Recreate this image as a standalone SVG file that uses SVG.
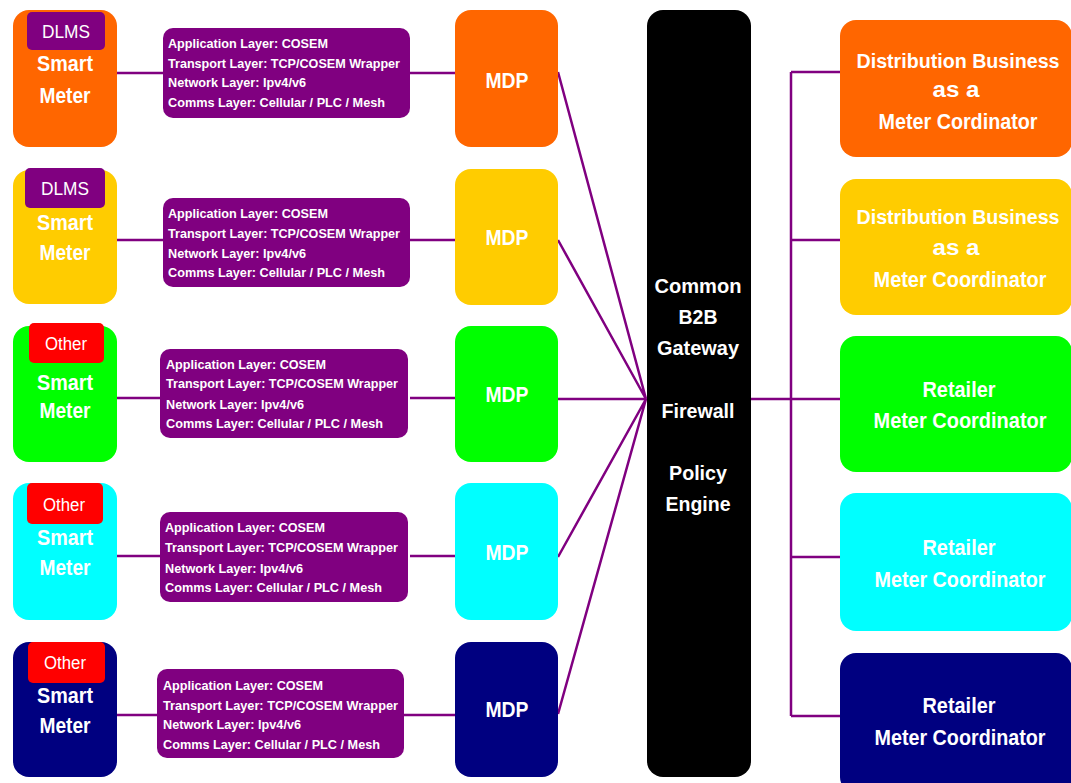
<svg xmlns="http://www.w3.org/2000/svg" width="1071" height="783" viewBox="0 0 1071 783">
<style>
.t{font-family:"Liberation Sans",Arial,sans-serif;fill:#fff;text-anchor:middle}
.b{font-weight:bold;font-size:22px}
.r{font-weight:bold;font-size:20px}
.g{font-weight:bold;font-size:21px}
.lab{font-size:18px}
.ly{font-family:"Liberation Sans",Arial,sans-serif;fill:#fff;font-weight:bold;font-size:13px}
.c{stroke:#800080;stroke-width:2.5;fill:none}
.lay{fill:#800080}
</style>
<rect width="1071" height="783" fill="#fff"/>
<g id="connectors">
<path class="c" d="M117 73H163M410 73H455M117 240H163M410 240H455M117 398H163M410 398H455M117 556H163M410 556H455M117 715H163M404 715H455"/>
<path class="c" d="M558 72L646 399M558 240L646 399M558 399H647M558 557L646 399M558 714L646 399"/>
<path class="c" d="M751 399H791M791 72V716M791 72H840M791 240H840M791 399H840M791 557H840M791 716H840"/>
</g>
<g id="sm1"><rect x="13" y="10" width="104" height="137" rx="16" fill="#FF6600"/><rect x="27" y="12" width="78" height="38" rx="5" class="lay"/><text class="t lab" x="66" y="38" textLength="48" lengthAdjust="spacingAndGlyphs">DLMS</text><text class="t b" x="65" y="71" textLength="56" lengthAdjust="spacingAndGlyphs">Smart</text><text class="t b" x="65" y="103" textLength="51" lengthAdjust="spacingAndGlyphs">Meter</text></g>
<g id="sm2"><rect x="13" y="170" width="104" height="134" rx="16" fill="#FFCC00"/><rect x="25" y="168" width="80" height="40" rx="5" class="lay"/><text class="t lab" x="65" y="195" textLength="48" lengthAdjust="spacingAndGlyphs">DLMS</text><text class="t b" x="65" y="230" textLength="56" lengthAdjust="spacingAndGlyphs">Smart</text><text class="t b" x="65" y="260" textLength="51" lengthAdjust="spacingAndGlyphs">Meter</text></g>
<g id="sm3"><rect x="13" y="326" width="104" height="136" rx="16" fill="#00FF00"/><rect x="29" y="323" width="75" height="40" rx="5" fill="#FF0000"/><text class="t lab" x="66" y="350" textLength="42" lengthAdjust="spacingAndGlyphs">Other</text><text class="t b" x="65" y="390" textLength="56" lengthAdjust="spacingAndGlyphs">Smart</text><text class="t b" x="65" y="418" textLength="51" lengthAdjust="spacingAndGlyphs">Meter</text></g>
<g id="sm4"><rect x="13" y="483" width="104" height="137" rx="16" fill="#00FFFF"/><rect x="27" y="483" width="76" height="41" rx="5" fill="#FF0000"/><text class="t lab" x="64" y="511" textLength="42" lengthAdjust="spacingAndGlyphs">Other</text><text class="t b" x="65" y="545" textLength="56" lengthAdjust="spacingAndGlyphs">Smart</text><text class="t b" x="65" y="575" textLength="51" lengthAdjust="spacingAndGlyphs">Meter</text></g>
<g id="sm5"><rect x="13" y="642" width="104" height="135" rx="16" fill="#000080"/><rect x="28" y="642" width="77" height="41" rx="5" fill="#FF0000"/><text class="t lab" x="65" y="669" textLength="42" lengthAdjust="spacingAndGlyphs">Other</text><text class="t b" x="65" y="703" textLength="56" lengthAdjust="spacingAndGlyphs">Smart</text><text class="t b" x="65" y="733" textLength="51" lengthAdjust="spacingAndGlyphs">Meter</text></g>
<g id="ly1"><rect x="163" y="28" width="247" height="90" rx="10" class="lay"/><text class="ly" x="168" y="48" textLength="160" lengthAdjust="spacingAndGlyphs">Application Layer: COSEM</text><text class="ly" x="168" y="68" textLength="232" lengthAdjust="spacingAndGlyphs">Transport Layer: TCP/COSEM Wrapper</text><text class="ly" x="168" y="87" textLength="138" lengthAdjust="spacingAndGlyphs">Network Layer: Ipv4/v6</text><text class="ly" x="168" y="107" textLength="217" lengthAdjust="spacingAndGlyphs">Comms Layer: Cellular / PLC / Mesh</text></g>
<g id="ly2"><rect x="163" y="198" width="247" height="89" rx="10" class="lay"/><text class="ly" x="168" y="218" textLength="160" lengthAdjust="spacingAndGlyphs">Application Layer: COSEM</text><text class="ly" x="168" y="238" textLength="232" lengthAdjust="spacingAndGlyphs">Transport Layer: TCP/COSEM Wrapper</text><text class="ly" x="168" y="258" textLength="138" lengthAdjust="spacingAndGlyphs">Network Layer: Ipv4/v6</text><text class="ly" x="168" y="277" textLength="217" lengthAdjust="spacingAndGlyphs">Comms Layer: Cellular / PLC / Mesh</text></g>
<g id="ly3"><rect x="160" y="349" width="248" height="89" rx="10" class="lay"/><text class="ly" x="166" y="369" textLength="160" lengthAdjust="spacingAndGlyphs">Application Layer: COSEM</text><text class="ly" x="166" y="388" textLength="232" lengthAdjust="spacingAndGlyphs">Transport Layer: TCP/COSEM Wrapper</text><text class="ly" x="166" y="409" textLength="138" lengthAdjust="spacingAndGlyphs">Network Layer: Ipv4/v6</text><text class="ly" x="166" y="428" textLength="217" lengthAdjust="spacingAndGlyphs">Comms Layer: Cellular / PLC / Mesh</text></g>
<g id="ly4"><rect x="160" y="512" width="248" height="90" rx="10" class="lay"/><text class="ly" x="165" y="532" textLength="160" lengthAdjust="spacingAndGlyphs">Application Layer: COSEM</text><text class="ly" x="165" y="552" textLength="233" lengthAdjust="spacingAndGlyphs">Transport Layer: TCP/COSEM Wrapper</text><text class="ly" x="165" y="573" textLength="138" lengthAdjust="spacingAndGlyphs">Network Layer: Ipv4/v6</text><text class="ly" x="165" y="592" textLength="217" lengthAdjust="spacingAndGlyphs">Comms Layer: Cellular / PLC / Mesh</text></g>
<g id="ly5"><rect x="157" y="669" width="247" height="89" rx="10" class="lay"/><text class="ly" x="163" y="690" textLength="160" lengthAdjust="spacingAndGlyphs">Application Layer: COSEM</text><text class="ly" x="163" y="710" textLength="235" lengthAdjust="spacingAndGlyphs">Transport Layer: TCP/COSEM Wrapper</text><text class="ly" x="163" y="729" textLength="138" lengthAdjust="spacingAndGlyphs">Network Layer: Ipv4/v6</text><text class="ly" x="163" y="749" textLength="217" lengthAdjust="spacingAndGlyphs">Comms Layer: Cellular / PLC / Mesh</text></g>
<g id="mdp1"><rect x="455" y="10" width="103" height="137" rx="16" fill="#FF6600"/><text class="t b" x="507" y="88" textLength="43" lengthAdjust="spacingAndGlyphs">MDP</text></g>
<g id="mdp2"><rect x="455" y="169" width="103" height="136" rx="16" fill="#FFCC00"/><text class="t b" x="507" y="245" textLength="43" lengthAdjust="spacingAndGlyphs">MDP</text></g>
<g id="mdp3"><rect x="455" y="326" width="103" height="136" rx="16" fill="#00FF00"/><text class="t b" x="507" y="402" textLength="43" lengthAdjust="spacingAndGlyphs">MDP</text></g>
<g id="mdp4"><rect x="455" y="483" width="103" height="137" rx="16" fill="#00FFFF"/><text class="t b" x="507" y="560" textLength="43" lengthAdjust="spacingAndGlyphs">MDP</text></g>
<g id="mdp5"><rect x="455" y="642" width="103" height="135" rx="16" fill="#000080"/><text class="t b" x="507" y="717" textLength="43" lengthAdjust="spacingAndGlyphs">MDP</text></g>
<g id="gateway"><rect x="647" y="10" width="104" height="767" rx="16" fill="#000"/>
<text class="t g" x="698" y="293" textLength="87" lengthAdjust="spacingAndGlyphs">Common</text>
<text class="t g" x="698" y="324" textLength="39" lengthAdjust="spacingAndGlyphs">B2B</text>
<text class="t g" x="698" y="355" textLength="82" lengthAdjust="spacingAndGlyphs">Gateway</text>
<text class="t g" x="698" y="418" textLength="73" lengthAdjust="spacingAndGlyphs">Firewall</text>
<text class="t g" x="698" y="480" textLength="58" lengthAdjust="spacingAndGlyphs">Policy</text>
<text class="t g" x="698" y="511" textLength="65" lengthAdjust="spacingAndGlyphs">Engine</text></g>
<g id="mc1"><rect x="840" y="20" width="232" height="137" rx="16" fill="#FF6600"/><text class="t r" x="958" y="68" textLength="203" lengthAdjust="spacingAndGlyphs">Distribution Business</text><text class="t b" x="956" y="97" textLength="47" lengthAdjust="spacingAndGlyphs">as a</text><text class="t b" x="958" y="129" textLength="159" lengthAdjust="spacingAndGlyphs">Meter Cordinator</text></g>
<g id="mc2"><rect x="840" y="179" width="232" height="136" rx="16" fill="#FFCC00"/><text class="t r" x="958" y="224" textLength="203" lengthAdjust="spacingAndGlyphs">Distribution Business</text><text class="t b" x="956" y="255" textLength="47" lengthAdjust="spacingAndGlyphs">as a</text><text class="t b" x="960" y="287" textLength="173" lengthAdjust="spacingAndGlyphs">Meter Coordinator</text></g>
<g id="mc3"><rect x="840" y="336" width="232" height="136" rx="16" fill="#00FF00"/><text class="t b" x="959" y="397" textLength="73" lengthAdjust="spacingAndGlyphs">Retailer</text><text class="t b" x="960" y="428" textLength="173" lengthAdjust="spacingAndGlyphs">Meter Coordinator</text></g>
<g id="mc4"><rect x="840" y="493" width="232" height="138" rx="16" fill="#00FFFF"/><text class="t b" x="959" y="555" textLength="73" lengthAdjust="spacingAndGlyphs">Retailer</text><text class="t b" x="960" y="587" textLength="171" lengthAdjust="spacingAndGlyphs">Meter Coordinator</text></g>
<g id="mc5"><rect x="840" y="653" width="232" height="140" rx="16" fill="#000080"/><text class="t b" x="959" y="713" textLength="73" lengthAdjust="spacingAndGlyphs">Retailer</text><text class="t b" x="960" y="745" textLength="171" lengthAdjust="spacingAndGlyphs">Meter Coordinator</text></g>
</svg>
